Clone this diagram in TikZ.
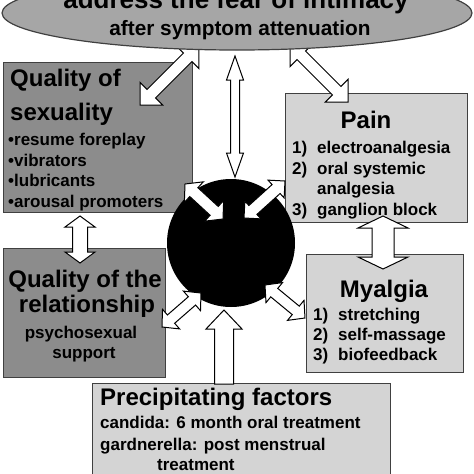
\documentclass[tikz,border=0pt]{standalone}
\usepackage{fontspec}
\setmainfont{Liberation Sans}
\usetikzlibrary{calc,shapes.geometric}

\definecolor{ovalgray}{gray}{0.65}
\definecolor{darkbox}{gray}{0.55}
\definecolor{lightbox}{gray}{0.83}
\definecolor{edgegray}{gray}{0.25}

% block arrows: ends, shaft half width, head half width, head length
\newcommand{\dblarrow}[5]{%
  \draw[blockarrow] let \p1=(#1), \p2=(#2),
      \n1={atan2(\y2-\y1,\x2-\x1)}, \n2={veclen(\x2-\x1,\y2-\y1)} in
    [shift={(\p1)}, rotate=\n1]
    (0pt,0pt) -- (#5pt,#4pt) -- (#5pt,#3pt) -- ({\n2-#5pt},#3pt)
    -- ({\n2-#5pt},#4pt) -- (\n2,0pt) -- ({\n2-#5pt},-#4pt)
    -- ({\n2-#5pt},-#3pt) -- (#5pt,-#3pt) -- (#5pt,-#4pt) -- cycle;}
\newcommand{\sglarrow}[5]{%
  \draw[blockarrow] let \p1=(#1), \p2=(#2),
      \n1={atan2(\y2-\y1,\x2-\x1)}, \n2={veclen(\x2-\x1,\y2-\y1)} in
    [shift={(\p1)}, rotate=\n1]
    (0pt,#3pt) -- ({\n2-#5pt},#3pt) -- ({\n2-#5pt},#4pt) -- (\n2,0pt)
    -- ({\n2-#5pt},-#4pt) -- ({\n2-#5pt},-#3pt) -- (0pt,-#3pt) -- cycle;}

\begin{document}
\begin{tikzpicture}[x=1pt,y=-1pt,
  box/.style={draw=edgegray,line width=1.2pt,anchor=north west,inner sep=0pt},
  title/.style={font=\fontsize{24}{28}\selectfont\bfseries,inner sep=0pt},
  item/.style={font=\fontsize{17}{20}\selectfont\bfseries,inner sep=0pt,anchor=base west},
  blockarrow/.style={draw=black,fill=white,line width=1pt,line join=miter}]
  \useasboundingbox (0,0) rectangle (474,474);
  \clip (0,0) rectangle (474,474);

  % Quality of sexuality
  \node[box,fill=darkbox,minimum width=189pt,minimum height=150pt] (sex) at (3,62) {};
  \node[title,anchor=base west] (sexT1) at (10,86) {Quality of};
  \node[title,anchor=base west] (sexT2) at (10,120) {sexuality};
  \node[item] (sexI1) at (8,145) {•resume foreplay};
  \node[item] (sexI2) at (8,166) {•vibrators};
  \node[item] (sexI3) at (8,186) {•lubricants};
  \node[item] (sexI4) at (8,207) {•arousal promoters};

  % Quality of the relationship
  \node[box,fill=darkbox,minimum width=162pt,minimum height=129pt] (rel) at (3,248) {};
  \node[title,anchor=base] (relT1) at (85,287) {Quality of the};
  \node[title,anchor=base] (relT2) at (87,312) {relationship};
  \node[item,anchor=base] (relI1) at (81,338) {psychosexual};
  \node[item,anchor=base] (relI2) at (84,358) {support};

  % Pain
  \node[box,fill=lightbox,minimum width=182pt,minimum height=129pt] (pain) at (285,93) {};
  \node[title,anchor=base] (painT) at (366,128) {Pain};
  \node[item] (painN1) at (292,153) {1)};
  \node[item] (painI1) at (317,153) {electroanalgesia};
  \node[item] (painN2) at (292,174) {2)};
  \node[item] (painI2) at (317,174) {oral systemic};
  \node[item] (painI3) at (317,194) {analgesia};
  \node[item] (painN3) at (292,215) {3)};
  \node[item] (painI4) at (317,215) {ganglion block};

  % Myalgia
  \node[box,fill=lightbox,minimum width=157pt,minimum height=118pt] (mya) at (306,254) {};
  \node[title,anchor=base] (myaT) at (384,297) {Myalgia};
  \node[item] (myaN1) at (313,320) {1)};
  \node[item] (myaI1) at (338,320) {stretching};
  \node[item] (myaN2) at (313,340) {2)};
  \node[item] (myaI2) at (338,340) {self-massage};
  \node[item] (myaN3) at (313,360) {3)};
  \node[item] (myaI3) at (338,360) {biofeedback};

  % Precipitating factors
  \node[box,fill=lightbox,minimum width=298pt,minimum height=110pt] (prec) at (92,383) {};
  \node[title,anchor=base west] (precT) at (100,405) {Precipitating factors};
  \node[item] (precI1) at (100,428) {candida: 6 month oral treatment};
  \node[item] (precI2) at (100,450) {gardnerella: post menstrual};
  \node[item] (precI3) at (157,470) {treatment};

  % centre
  \node[circle,fill=black,inner sep=0pt,minimum size=128pt] (core) at (231,243) {};

  % arrows
  \coordinate (a1s) at (140,105);  \coordinate (a1e) at (199,46);
  \coordinate (a2s) at (235,56);   \coordinate (a2e) at (235,177);
  \coordinate (a3s) at (348,102);  \coordinate (a3e) at (290,44);
  \coordinate (a4s) at (185,184);  \coordinate (a4e) at (223,219);
  \coordinate (a5s) at (285,181);  \coordinate (a5e) at (244,218);
  \coordinate (a6s) at (80,216);   \coordinate (a6e) at (80,263);
  \coordinate (a7s) at (383,216);  \coordinate (a7e) at (383,269);
  \coordinate (a8s) at (162,327);  \coordinate (a8e) at (201,293);
  \coordinate (a9s) at (265,285);  \coordinate (a9e) at (305,318);
  \coordinate (a10s) at (224,384); \coordinate (a10e) at (224,310);
  \dblarrow{a1s}{a1e}{6}{16}{16}
  \dblarrow{a2s}{a2e}{4.5}{8.5}{24}
  \dblarrow{a3s}{a3e}{6}{16}{16}
  \dblarrow{a4s}{a4e}{6}{14}{12}
  \dblarrow{a5s}{a5e}{6}{12}{12}
  \dblarrow{a6s}{a6e}{7.5}{15}{11}
  \dblarrow{a7s}{a7e}{11}{25}{12}
  \dblarrow{a8s}{a8e}{5.5}{13}{12}
  \dblarrow{a9s}{a9e}{5.5}{13}{12}
  \sglarrow{a10s}{a10e}{9.5}{18}{19}

  % goal
  \node[ellipse,draw=edgegray,line width=1.2pt,fill=ovalgray,inner sep=0pt,
        minimum width=470pt,minimum height=74pt] (goal) at (237,13) {};
  \node[font=\fontsize{26}{30}\selectfont\bfseries,anchor=base,inner sep=0pt]
    (goalT1) at (236,8) {address the fear of intimacy};
  \node[font=\fontsize{20.8}{24}\selectfont\bfseries,anchor=base,inner sep=0pt]
    (goalT2) at (240,35) {after symptom attenuation};
\end{tikzpicture}
\end{document}
